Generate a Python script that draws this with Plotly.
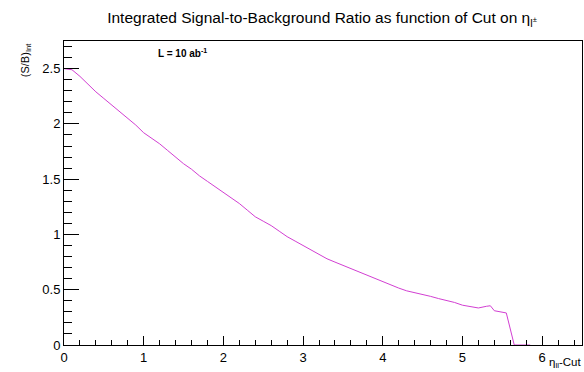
import plotly.graph_objects as go

cut_eta = [0.0, 0.1, 0.2, 0.3, 0.4, 0.5, 0.6, 0.7, 0.8, 0.9,
           1.0, 1.1, 1.2, 1.3, 1.4, 1.5, 1.6, 1.7, 1.8, 1.9,
           2.0, 2.1, 2.2, 2.3, 2.4, 2.5, 2.6, 2.7, 2.8, 2.9,
           3.0, 3.1, 3.2, 3.3, 3.4, 3.5, 3.6, 3.7, 3.8, 3.9,
           4.0, 4.1, 4.2, 4.3, 4.4, 4.5, 4.6, 4.7, 4.8, 4.9,
           5.0, 5.1, 5.2, 5.3, 5.35, 5.4, 5.5, 5.55, 5.65, 5.85]
sb_ratio = [2.50, 2.49, 2.43, 2.36, 2.29, 2.23, 2.17, 2.11, 2.05, 1.99,
            1.92, 1.87, 1.82, 1.76, 1.70, 1.64, 1.59, 1.53, 1.48, 1.43,
            1.38, 1.33, 1.28, 1.22, 1.16, 1.12, 1.08, 1.03, 0.98, 0.94,
            0.90, 0.86, 0.82, 0.78, 0.75, 0.72, 0.69, 0.66, 0.63, 0.60,
            0.57, 0.54, 0.515, 0.49, 0.475, 0.46, 0.44, 0.42, 0.405, 0.385,
            0.36, 0.345, 0.335, 0.35, 0.355, 0.31, 0.295, 0.29, 0.0, 0.0]

x_ticks = [0, 1, 2, 3, 4, 5, 6]
y_ticks = [0, 0.5, 1, 1.5, 2, 2.5]
y_tick_text = ["0", "0.5", "1", "1.5", "2", "2.5"]

FONT = "Liberation Sans, Arial, Helvetica, sans-serif"

fig = go.Figure()
fig.add_trace(go.Scatter(x=cut_eta, y=sb_ratio, mode="lines",
                         line=dict(color="#d23fd2", width=1), showlegend=False))

fig.update_layout(
    width=584, height=372,
    margin=dict(l=64, r=2, t=41, b=27, autoexpand=False),
    paper_bgcolor="white", plot_bgcolor="white",
    font=dict(family=FONT, color="black", size=12),
    title=dict(text="Integrated Signal-to-Background Ratio as function of Cut on η<sub>l<sup>±</sup></sub>",
               xref="container", x=322 / 584, xanchor="center",
               yref="container", y=1 - 18 / 372, yanchor="middle",
               font=dict(size=15.5, family=FONT, color="black")),
)
fig.update_xaxes(range=[0, 6.5], tickvals=x_ticks, ticktext=[str(v) for v in x_ticks],
                 ticks="inside", ticklen=9, tickcolor="black", tickwidth=1,
                 minor=dict(dtick=0.2, ticks="inside", ticklen=5, tickcolor="black", tickwidth=1),
                 showline=True, linecolor="black", linewidth=1, mirror=True,
                 showgrid=False, zeroline=False, tickfont=dict(size=13),
                 automargin=False)
fig.update_yaxes(range=[0, 2.75], tickvals=y_ticks, ticktext=y_tick_text,
                 ticks="inside", ticklen=15, tickcolor="black", tickwidth=1,
                 minor=dict(dtick=0.1, ticks="inside", ticklen=8, tickcolor="black", tickwidth=1),
                 showline=True, linecolor="black", linewidth=1, mirror=True,
                 showgrid=False, zeroline=False, tickfont=dict(size=13),
                 automargin=False)

fig.add_annotation(text="<b>L = 10 ab<sup>-1</sup></b>", xref="paper", yref="paper",
                   x=0.228, y=0.96, xanchor="center", yanchor="middle",
                   showarrow=False, font=dict(size=10, family=FONT))
fig.add_annotation(text="η<sub>ll</sub>-Cut", xref="paper", yref="paper",
                   x=1, y=0, xanchor="right", yanchor="middle", yshift=-18, xshift=2,
                   showarrow=False, font=dict(size=11.5, family=FONT))
fig.add_annotation(text="(S/B)<sub>Int</sub>", xref="paper", yref="paper",
                   x=-0.073, y=1, xanchor="center", yanchor="top", textangle=-90,
                   showarrow=False, font=dict(size=11, family=FONT))

fig.write_html("out.html",
               config={"displayModeBar": False},
               post_script="document.body.style.margin='0';document.body.style.overflow='hidden';")
